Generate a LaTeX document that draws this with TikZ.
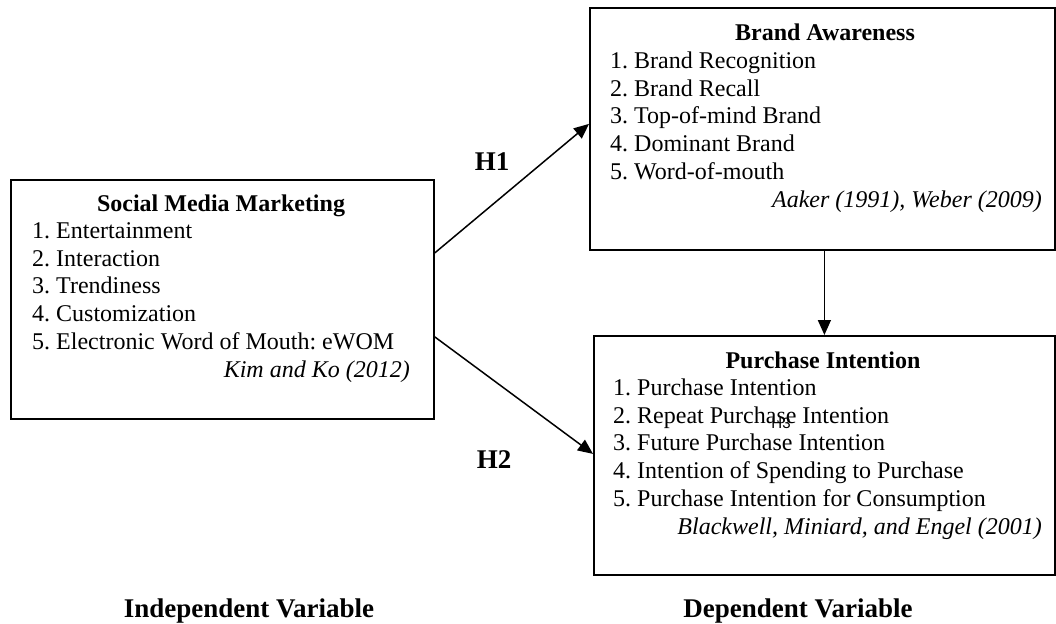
\documentclass[tikz,border=0pt]{standalone}
\usepackage{fontspec}
\setmainfont{Liberation Serif}
\newfontfamily\hsans{Liberation Sans}
\usetikzlibrary{arrows.meta}
\frenchspacing
\begin{document}
\begin{tikzpicture}[x=1pt,y=-1pt,
  box/.style={draw,line width=1.8pt,inner sep=0pt,anchor=north west},
  ttl/.style={font=\fontsize{24}{27.6}\selectfont\bfseries,anchor=base,inner sep=0pt},
  itm/.style={font=\fontsize{24}{27.6}\selectfont,anchor=base west,inner sep=0pt},
  cit/.style={font=\fontsize{24}{27.6}\selectfont\itshape,anchor=base east,inner sep=0pt},
  hyp/.style={font=\fontsize{27}{30}\selectfont\bfseries,inner sep=0pt},
  arr/.style={line width=1.5pt,-{Triangle[length=15pt,width=13pt]}}]
\useasboundingbox (0,0) rectangle (1056,623);
% boxes
\node[box,minimum width=423pt,minimum height=239pt] (smm) at (10,179) {};
\node[box,minimum width=465pt,minimum height=242pt] (ba) at (589,7) {};
\node[box,minimum width=461pt,minimum height=239pt] (pi) at (593,335) {};
% Social Media Marketing
\node[ttl] (smmt) at (221,211) {Social Media Marketing};
\foreach \t [count=\i] in {1. Entertainment,2. Interaction,3. Trendiness,4. Customization,5. Electronic Word of Mouth: eWOM}
  \node[itm] (smm\i) at (32,211+27.6*\i) {\t};
\node[cit] (smmc) at (410,377) {Kim and Ko (2012)};
% Brand Awareness
\node[ttl] (bat) at (825,41) {Brand Awareness};
\foreach \t [count=\i] in {1. Brand Recognition,2. Brand Recall,3. Top-of-mind Brand,4. Dominant Brand,5. Word-of-mouth}
  \node[itm] (ba\i) at (610,41+27.6*\i) {\t};
\node[cit] (bac) at (1042,207) {Aaker (1991), Weber (2009)};
% Purchase Intention
\node[ttl] (pit) at (823,368) {Purchase Intention};
\foreach \t [count=\i] in {1. Purchase Intention,2. Repeat Purchase Intention,3. Future Purchase Intention,4. Intention of Spending to Purchase,5. Purchase Intention for Consumption}
  \node[itm] (pi\i) at (613,368+27.6*\i) {\t};
\node[cit] (pic) at (1042,534) {Blackwell, Miniard, and Engel (2001)};
% H3 small label
\node[font=\hsans\fontsize{15}{17}\selectfont,anchor=base,inner sep=0pt] (h3) at (781,428) {H3};
% arrows
\draw[arr] ([yshift=46.5pt]smm.east) -- ([yshift=5pt]ba.west);
\draw[arr] ([yshift=-37.5pt]smm.east) -- ([yshift=1.5pt]pi.west);
\draw[arr] (pi.north |- ba.south) -- (pi.north);
% hypothesis labels
\node[hyp] (h1) at (492,162) {H1};
\node[hyp] (h2) at (494,460) {H2};
% bottom labels
\node[hyp,anchor=base] (iv) at (249,617) {Independent Variable};
\node[hyp,anchor=base] (dv) at (798,617) {Dependent Variable};
\end{tikzpicture}
\end{document}
